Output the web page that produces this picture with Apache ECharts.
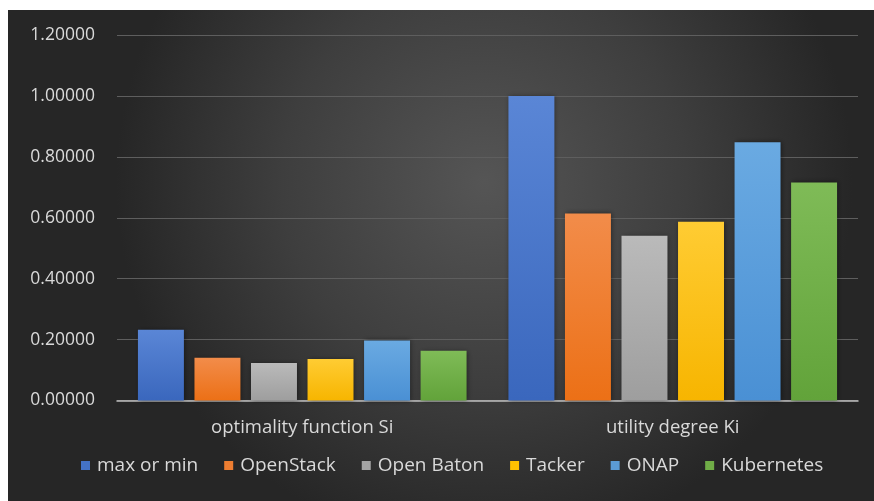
<!DOCTYPE html>
<html>
<head>
<meta charset="utf-8">
<script src="https://cdn.jsdelivr.net/npm/echarts@6/dist/echarts.min.js"></script>
<style>
html,body{margin:0;padding:0;background:#ffffff;}
#chart{position:absolute;left:8px;top:10px;width:866px;height:491px;}
</style>
</head>
<body>
<div id="chart"></div>
<script>
const categories = ["optimality function Si", "utility degree Ki"];
const seriesNames = ["max or min", "OpenStack", "Open Baton", "Tacker", "ONAP", "Kubernetes"];
const maxOrMin = [0.2320, 1.0000];
const openStack = [0.1400, 0.6140];
const openBaton = [0.1235, 0.5410];
const tacker = [0.1365, 0.5870];
const onap = [0.1970, 0.8480];
const kubernetes = [0.1630, 0.7160];
const yTicks = [0, 0.2, 0.4, 0.6, 0.8, 1.0, 1.2];

const seriesValues = [maxOrMin, openStack, openBaton, tacker, onap, kubernetes];
const topColors = ["#5a86d6", "#f28c4a", "#bababa", "#ffcc33", "#6aaae2", "#7fbb57"];
const botColors = ["#3a67bd", "#ec7016", "#9e9e9e", "#f7b500", "#4a90d4", "#62a33a"];
const legendColors = ["#4472c4", "#ed7d31", "#a5a5a5", "#ffc000", "#5b9bd5", "#70ad47"];

const chart = echarts.init(document.getElementById('chart'));
const option = {
  backgroundColor: {
    type: 'radial', x: 0.55, y: 0.35, r: 0.75,
    colorStops: [
      {offset: 0, color: '#555555'},
      {offset: 0.55, color: '#3e3e3e'},
      {offset: 1, color: '#262626'}
    ]
  },
  textStyle: {fontFamily: 'Open Sans'},
  animation: false,
  grid: {left: 109, right: 16, top: 25, bottom: 100.5, containLabel: false},
  legend: {
    data: seriesNames.map((n, i) => ({name: n, itemStyle: {color: legendColors[i]}})),
    top: 441,
    left: 68,
    icon: 'rect',
    itemWidth: 9, itemHeight: 9, itemGap: 26,
    textStyle: {color: '#d9d9d9', fontSize: 19, fontFamily: 'Open Sans', padding: [0, 0, 0, 2]}
  },
  xAxis: {
    type: 'category',
    data: categories,
    axisLine: {lineStyle: {color: '#bfbfbf', width: 1.5}},
    axisTick: {show: false},
    axisLabel: {color: '#d9d9d9', fontSize: 18.5, margin: 18, fontFamily: 'Open Sans'}
  },
  yAxis: {
    type: 'value', min: yTicks[0], max: yTicks[yTicks.length - 1], interval: 0.2,
    axisLine: {show: false}, axisTick: {show: false},
    splitLine: {lineStyle: {color: '#5e5e5e', width: 1.2}},
    axisLabel: {color: '#d9d9d9', fontSize: 17.5, margin: 22, fontFamily: 'Open Sans',
      formatter: v => v.toFixed(5)}
  },
  series: seriesNames.map((name, i) => ({
    name: name,
    type: 'bar',
    data: seriesValues[i],
    barGap: '23%',
    barCategoryGap: '11.3%',
    itemStyle: {
      color: {type: 'linear', x: 0, y: 0, x2: 0, y2: 1,
        colorStops: [{offset: 0, color: topColors[i]}, {offset: 1, color: botColors[i]}]},
      shadowColor: 'rgba(0,0,0,0.45)', shadowBlur: 5, shadowOffsetX: 1, shadowOffsetY: 0
    }
  }))
};
chart.setOption(option);
</script>
</body>
</html>
